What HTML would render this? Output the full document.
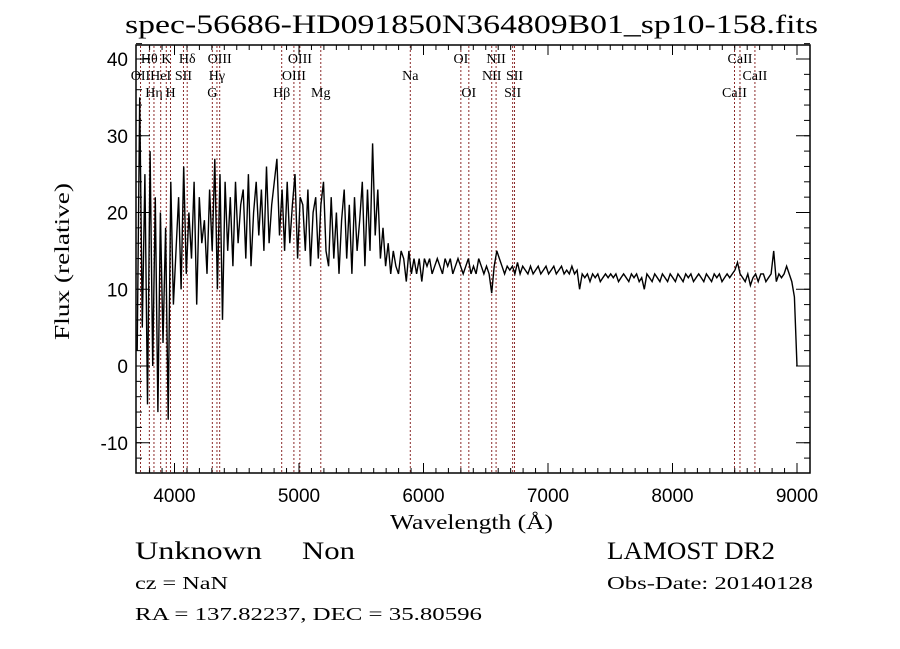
<!DOCTYPE html>
<html><head><meta charset="utf-8"><style>
html,body{margin:0;padding:0;background:#fff;}
svg{display:block;font-family:"Liberation Serif",serif;}
</style></head><body>
<svg id="chart" width="900" height="649" viewBox="0 0 900 649">
<text x="125" y="33" font-size="26" textLength="693" lengthAdjust="spacingAndGlyphs">spec-56686-HD091850N364809B01_sp10-158.fits</text>
<g id="lines"></g>
<g id="spec"></g>
<rect x="136" y="45" width="674" height="428" fill="none" stroke="#000" stroke-width="1.5"/>
<g id="axes"></g>
<text x="390" y="529" font-size="21" textLength="163" lengthAdjust="spacingAndGlyphs">Wavelength (Å)</text>
<text transform="translate(69,340) rotate(-90)" font-size="21" textLength="157" lengthAdjust="spacingAndGlyphs">Flux (relative)</text>
<text x="135" y="559" font-size="25" textLength="127" lengthAdjust="spacingAndGlyphs">Unknown</text>
<text x="302" y="559" font-size="25" textLength="53" lengthAdjust="spacingAndGlyphs">Non</text>
<text x="607" y="559" font-size="25" textLength="168" lengthAdjust="spacingAndGlyphs">LAMOST DR2</text>
<text x="135" y="589" font-size="18" textLength="93" lengthAdjust="spacingAndGlyphs">cz = NaN</text>
<text x="607" y="589" font-size="18" textLength="206" lengthAdjust="spacingAndGlyphs">Obs-Date: 20140128</text>
<text x="135" y="620" font-size="18" textLength="347" lengthAdjust="spacingAndGlyphs">RA = 137.82237, DEC =  35.80596</text>
</svg>
<script>
const flux = [2,35,5,25,-5,28,0,22,-6,20,3,18,-7,24,8,15,
22,10,26,12,20,14,24,8,22,16,19,12,23,15,27,10,25,6,24,
15,22,13,24,16,21,23,14,25,13,20,24,17,23,15,26,16,21,24,27,17,23,15,24,16,21,25,14,22,
21,15,23,13,20,22,14,21,24,15,13,22,14,20,12,19,23,14,21,12,22,15,19,24,13,23,15,29,17,
23,14,18,13,16,12,15,13,12,15,14,11,15,12,14,12,14,11,14,
13,14,12,13,14,13,12,14,13,14,12,13,14,13,12,13,14,12,13,12,14,13,12,13,
12,9.5,13,15,14,13,12,13,12.5,13,12,13.5,12,13,12.5,12,13,12,12.5,13,12,12.5,13,12,
12.5,13,12,12.5,13,12,12.5,12,13,12,12.5,10,12,11.5,12,11,12,11.5,12,11,11.5,12,11.5,12,
11.5,12,11,11.5,12,11.5,11,12,11.5,12,11,11.5,10,12,11.5,11,12,11.5,11,12,11.5,11,12,11.5,
11,12,11.5,11,12,11.5,12,11,11.5,12,11.5,11,12,11.5,11,12,11.5,12,11,11.5,12,11.5,12,12.5,
13.5,12,11.5,11,12,10.5,11.5,12,11,12,12,11,11.5,12,15,11,12,11.5,12,13,12,11,9,0];
const waveStart = 3700, waveEnd = 9000;
const xTicks = [4000,5000,6000,7000,8000,9000];
const yTicks = [-10,0,10,20,30,40];
const lineNames = ["OII","Hθ","Hη","HeI","K","H","SII","Hδ","G","Hγ","OIII","Hβ","OIII","OIII","Mg","Na","OI","OI","NII","NII","SII","SII","CaII","CaII","CaII"];
const lineWaves = [3727,3798,3835,3889,3934,3968,4072,4102,4304,4341,4363,4861,4959,5007,5175,5894,6300,6364,6548,6583,6716,6731,8498,8542,8662];
const lineRows = [1,0,2,1,0,2,1,0,2,1,0,2,1,0,2,1,0,2,1,0,2,1,2,0,1];
const NS="http://www.w3.org/2000/svg";
const X = w => 174.5 + (w-4000)*0.1245;
const Y = v => 366 - v*7.675;
function mk(tag, attrs, parent){const e=document.createElementNS(NS,tag);for(const k in attrs)e.setAttribute(k,attrs[k]);parent.appendChild(e);return e;}
const gl=document.getElementById('lines'), gs=document.getElementById('spec'), ga=document.getElementById('axes');
lineWaves.forEach((w,i)=>{
  const l=mk('line',{x1:X(w),x2:X(w),y1:46,y2:472,stroke:'#8b2a2a','stroke-width':1,'stroke-dasharray':'2,2'},gl);
  
  
  const t=mk('text',{x:X(w),y:63+lineRows[i]*17,'font-size':14,'text-anchor':'middle'},gl);
  t.textContent=lineNames[i];
  
  
});
const n=flux.length;
let d='';
flux.forEach((v,i)=>{const w=waveStart+i*(waveEnd-waveStart)/(n-1);d+=(i?'L':'M')+X(w).toFixed(1)+','+Y(v).toFixed(1);});
const p=mk('path',{d:d,fill:'none',stroke:'#000','stroke-width':1.4},gs);


xTicks.forEach(t=>{
  mk('line',{x1:X(t),x2:X(t),y1:473,y2:463,stroke:'#000'},ga);
  mk('line',{x1:X(t),x2:X(t),y1:45,y2:55,stroke:'#000'},ga);
  const tx=mk('text',{x:X(t),y:502,'font-size':19,'text-anchor':'middle','font-family':'Liberation Sans'},ga);
  tx.textContent=t;
  
  
});
for(let w=3800;w<9100;w+=100){mk('line',{x1:X(w),x2:X(w),y1:473,y2:468,stroke:'#000'},ga);mk('line',{x1:X(w),x2:X(w),y1:45,y2:50,stroke:'#000'},ga);}
yTicks.forEach(t=>{
  mk('line',{x1:136,x2:150,y1:Y(t),y2:Y(t),stroke:'#000'},ga);
  mk('line',{x1:810,x2:796,y1:Y(t),y2:Y(t),stroke:'#000'},ga);
  const tx=mk('text',{x:128,y:Y(t)+7,'font-size':19,'text-anchor':'end','font-family':'Liberation Sans'},ga);
  tx.textContent=t;
  
  
});
for(let v=-12;v<=42;v+=2){mk('line',{x1:136,x2:142,y1:Y(v),y2:Y(v),stroke:'#000'},ga);mk('line',{x1:810,x2:804,y1:Y(v),y2:Y(v),stroke:'#000'},ga);}
</script>
</body></html>
